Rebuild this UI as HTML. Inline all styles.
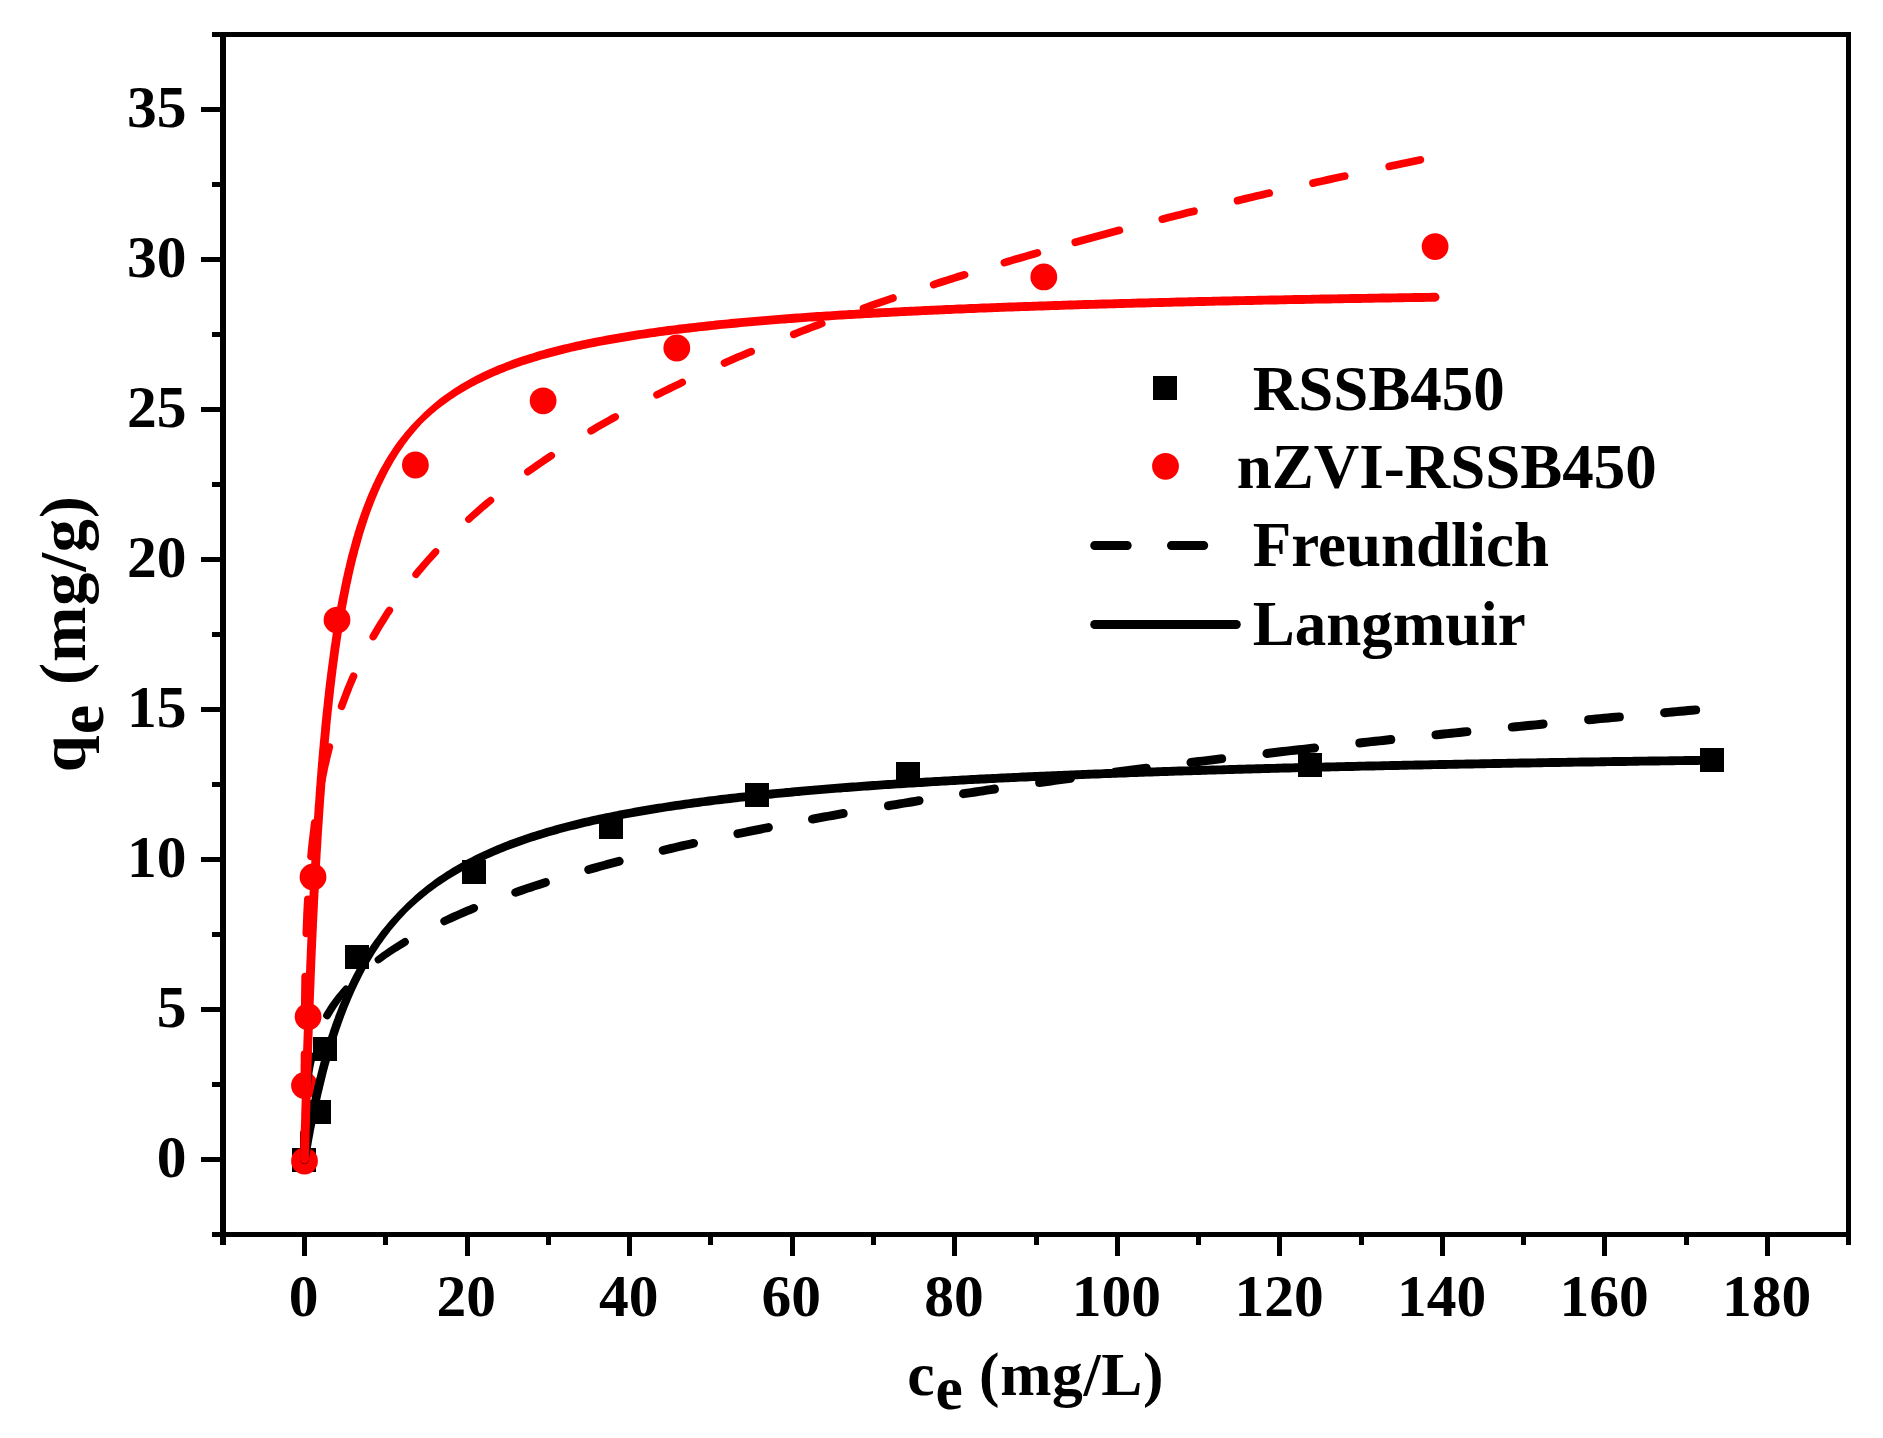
<!DOCTYPE html>
<html><head><meta charset="utf-8"><title>Adsorption isotherms</title>
<style>html,body{margin:0;padding:0;background:#fff}svg{display:block}text{font-family:"Liberation Serif",serif;font-weight:bold;fill:#000}</style></head><body>
<svg width="1883" height="1438" viewBox="0 0 1883 1438">
<rect x="0" y="0" width="1883" height="1438" fill="#fff"/>
<g fill="#000" shape-rendering="crispEdges">
<rect x="212" y="32" width="1639" height="5"/>
<rect x="212" y="1232" width="1639" height="5"/>
<rect x="220" y="32" width="6" height="1213"/>
<rect x="1846" y="32" width="5" height="1213"/>
<rect x="302" y="1234" width="5" height="22"/>
<rect x="383" y="1234" width="5" height="11"/>
<rect x="465" y="1234" width="5" height="22"/>
<rect x="546" y="1234" width="5" height="11"/>
<rect x="627" y="1234" width="5" height="22"/>
<rect x="708" y="1234" width="5" height="11"/>
<rect x="790" y="1234" width="5" height="22"/>
<rect x="871" y="1234" width="5" height="11"/>
<rect x="952" y="1234" width="5" height="22"/>
<rect x="1034" y="1234" width="5" height="11"/>
<rect x="1115" y="1234" width="5" height="22"/>
<rect x="1196" y="1234" width="5" height="11"/>
<rect x="1277" y="1234" width="5" height="22"/>
<rect x="1359" y="1234" width="5" height="11"/>
<rect x="1440" y="1234" width="5" height="22"/>
<rect x="1521" y="1234" width="5" height="11"/>
<rect x="1602" y="1234" width="5" height="22"/>
<rect x="1684" y="1234" width="5" height="11"/>
<rect x="1765" y="1234" width="5" height="22"/>
<rect x="201" y="1157" width="21" height="5"/>
<rect x="212" y="1082" width="10" height="5"/>
<rect x="201" y="1007" width="21" height="5"/>
<rect x="212" y="932" width="10" height="5"/>
<rect x="201" y="857" width="21" height="5"/>
<rect x="212" y="782" width="10" height="5"/>
<rect x="201" y="707" width="21" height="5"/>
<rect x="212" y="632" width="10" height="5"/>
<rect x="201" y="557" width="21" height="5"/>
<rect x="212" y="482" width="10" height="5"/>
<rect x="201" y="407" width="21" height="5"/>
<rect x="212" y="332" width="10" height="5"/>
<rect x="201" y="257" width="21" height="5"/>
<rect x="212" y="182" width="10" height="5"/>
<rect x="201" y="107" width="21" height="5"/>
<rect x="212" y="32" width="10" height="5"/>
</g>
<g font-size="59.5" text-anchor="middle">
<text x="303.70" y="1316.0">0</text>
<text x="466.26" y="1316.0">20</text>
<text x="628.81" y="1316.0">40</text>
<text x="791.37" y="1316.0">60</text>
<text x="953.92" y="1316.0">80</text>
<text x="1116.48" y="1316.0">100</text>
<text x="1279.03" y="1316.0">120</text>
<text x="1441.59" y="1316.0">140</text>
<text x="1604.14" y="1316.0">160</text>
<text x="1766.70" y="1316.0">180</text>
</g>
<g font-size="59.5" text-anchor="end">
<text x="186.4" y="1176.90">0</text>
<text x="186.4" y="1026.90">5</text>
<text x="186.4" y="876.90">10</text>
<text x="186.4" y="726.90">15</text>
<text x="186.4" y="576.90">20</text>
<text x="186.4" y="426.90">25</text>
<text x="186.4" y="276.90">30</text>
<text x="186.4" y="126.90">35</text>
</g>
<text x="907.3" y="1394.6" font-size="61.5">c<tspan dy="14.7" dx="1">e</tspan><tspan dy="-14.7" dx="0" letter-spacing="0.7"> (mg/L)</tspan></text>
<text transform="translate(84.7,772.2) rotate(-90)" font-size="66.5">q<tspan dy="17.8" dx="1">e</tspan><tspan dy="-17.8" dx="2.3" letter-spacing="0.85"> (mg/g)</tspan></text>
<g fill="#000" shape-rendering="crispEdges">
<rect x="292" y="1148" width="24" height="24"/>
<rect x="307" y="1100" width="24" height="24"/>
<rect x="313" y="1037" width="24" height="24"/>
<rect x="345" y="945" width="24" height="24"/>
<rect x="462" y="860" width="24" height="24"/>
<rect x="599" y="815" width="24" height="24"/>
<rect x="745" y="783" width="24" height="24"/>
<rect x="896" y="762" width="24" height="24"/>
<rect x="1298" y="753" width="24" height="24"/>
<rect x="1700" y="748" width="24" height="24"/>
</g>
<g fill="#f00">
<circle cx="304.5" cy="1161.0" r="13.4"/>
<circle cx="304.5" cy="1085.4" r="13.4"/>
<circle cx="308.1" cy="1016.7" r="13.4"/>
<circle cx="313.0" cy="876.9" r="13.4"/>
<circle cx="337.0" cy="620.1" r="13.4"/>
<circle cx="415.4" cy="465.0" r="13.4"/>
<circle cx="543.1" cy="400.8" r="13.4"/>
<circle cx="676.8" cy="348.0" r="13.4"/>
<circle cx="1043.8" cy="276.9" r="13.4"/>
<circle cx="1435.1" cy="246.6" r="13.4"/>
</g>
<g fill="#000">
<path d="M308.8,1160.2 L309.3,1157.3 L309.8,1154.3 L310.3,1151.4 L310.8,1148.4 L311.3,1145.5 L311.8,1142.5 L312.3,1139.6 L312.9,1136.6 L313.4,1133.7 L313.9,1130.8 L314.5,1127.8 L315.1,1124.9 L315.6,1122.0 L316.2,1119.0 L316.8,1116.1 L317.4,1113.2 L318.0,1110.3 L318.6,1107.4 L319.2,1104.4 L319.9,1101.5 L320.5,1098.6 L321.1,1095.7 L321.8,1092.8 L322.5,1089.9 L323.2,1087.0 L323.9,1084.1 L324.6,1081.2 L325.3,1078.3 L326.0,1075.4 L326.7,1072.5 L327.5,1069.6 L328.2,1066.8 L329.0,1063.9 L329.8,1061.0 L330.6,1058.1 L331.4,1055.3 L332.3,1052.4 L333.1,1049.6 L334.0,1046.7 L334.8,1043.9 L335.7,1041.0 L336.6,1038.2 L337.5,1035.4 L338.5,1032.5 L339.4,1029.7 L340.4,1026.9 L341.4,1024.1 L342.4,1021.3 L343.4,1018.5 L344.4,1015.7 L345.5,1013.0 L346.5,1010.2 L347.6,1007.4 L348.7,1004.7 L349.9,1001.9 L351.0,999.2 L352.2,996.5 L353.4,993.8 L354.6,991.1 L355.8,988.4 L357.1,985.7 L358.4,983.0 L359.7,980.4 L361.0,977.7 L362.4,975.1 L363.7,972.5 L365.1,969.8 L366.6,967.3 L368.0,964.7 L369.5,962.1 L371.0,959.6 L372.5,957.0 L374.0,954.5 L375.6,952.0 L377.2,949.5 L378.9,947.1 L380.5,944.6 L382.2,942.2 L383.9,939.8 L385.6,937.4 L387.4,935.0 L389.2,932.7 L391.0,930.3 L392.9,928.0 L394.8,925.8 L396.7,923.5 L398.6,921.3 L400.6,919.0 L402.5,916.9 L404.6,914.7 L406.6,912.6 L408.7,910.5 L410.8,908.4 L413.0,906.4 L415.2,904.4 L417.4,902.5 L419.7,900.6 L421.9,898.7 L424.2,896.8 L426.5,894.9 L428.8,893.1 L431.2,891.3 L433.6,889.6 L436.0,887.8 L438.4,886.1 L440.8,884.5 L443.3,882.8 L445.7,881.2 L448.2,879.6 L450.7,878.0 L453.2,876.5 L455.8,874.9 L458.3,873.5 L460.9,872.0 L463.5,870.5 L466.1,869.1 L468.7,867.7 L471.3,866.4 L473.9,865.0 L476.6,863.7 L479.3,862.4 L481.9,861.1 L484.6,859.9 L487.3,858.6 L490.0,857.4 L492.7,856.2 L495.5,855.1 L498.2,853.9 L500.9,852.8 L503.7,851.7 L506.4,850.6 L509.2,849.5 L512.0,848.5 L514.8,847.4 L517.6,846.4 L520.4,845.4 L523.2,844.4 L526.0,843.5 L528.8,842.5 L531.6,841.6 L534.5,840.7 L537.3,839.8 L540.1,838.9 L543.0,838.0 L545.8,837.2 L548.7,836.3 L551.5,835.5 L554.4,834.7 L557.3,833.9 L560.1,833.1 L563.0,832.3 L565.9,831.6 L568.8,830.8 L571.7,830.1 L574.6,829.4 L577.5,828.7 L580.4,828.0 L583.3,827.3 L586.2,826.6 L589.1,825.9 L592.0,825.3 L594.9,824.6 L597.8,824.0 L600.7,823.3 L603.6,822.7 L606.5,822.1 L609.5,821.5 L612.4,820.9 L615.3,820.3 L618.3,819.8 L621.2,819.2 L624.1,818.6 L627.0,818.1 L630.0,817.5 L632.9,817.0 L635.9,816.5 L638.8,816.0 L641.7,815.4 L644.7,814.9 L647.6,814.4 L650.6,814.0 L653.5,813.5 L656.5,813.0 L659.4,812.5 L662.4,812.1 L665.3,811.6 L668.3,811.1 L671.2,810.7 L674.2,810.3 L677.2,809.8 L680.1,809.4 L683.1,809.0 L686.0,808.5 L689.0,808.1 L692.0,807.7 L694.9,807.3 L697.9,806.9 L700.9,806.5 L703.8,806.1 L706.8,805.8 L709.7,805.4 L712.7,805.0 L715.7,804.6 L718.7,804.3 L721.6,803.9 L724.6,803.6 L727.6,803.2 L730.5,802.9 L733.5,802.5 L736.5,802.2 L739.5,801.8 L742.4,801.5 L745.4,801.2 L748.4,800.9 L751.4,800.5 L754.3,800.2 L757.3,799.9 L760.3,799.6 L763.3,799.3 L766.2,799.0 L769.2,798.7 L772.2,798.4 L775.2,798.1 L778.1,797.8 L781.1,797.5 L784.1,797.2 L787.1,797.0 L790.1,796.7 L793.0,796.4 L796.0,796.1 L799.0,795.9 L802.0,795.6 L805.0,795.3 L808.0,795.1 L810.9,794.8 L813.9,794.6 L816.9,794.3 L819.9,794.1 L822.9,793.8 L825.9,793.6 L828.8,793.3 L831.8,793.1 L834.8,792.8 L837.8,792.6 L840.8,792.4 L843.8,792.1 L846.8,791.9 L849.7,791.7 L852.7,791.5 L855.7,791.2 L858.7,791.0 L861.7,790.8 L864.7,790.6 L867.7,790.4 L870.6,790.2 L873.6,790.0 L876.6,789.8 L879.6,789.5 L882.6,789.3 L885.6,789.1 L888.6,788.9 L891.6,788.7 L894.6,788.5 L897.5,788.3 L900.5,788.2 L903.5,788.0 L906.5,787.8 L909.5,787.6 L912.5,787.4 L915.5,787.2 L918.5,787.0 L921.5,786.9 L924.4,786.7 L927.4,786.5 L930.4,786.3 L933.4,786.1 L936.4,786.0 L939.4,785.8 L942.4,785.6 L945.4,785.5 L948.4,785.3 L951.4,785.1 L954.4,785.0 L957.3,784.8 L960.3,784.6 L963.3,784.5 L966.3,784.3 L969.3,784.1 L972.3,784.0 L975.3,783.8 L978.3,783.7 L981.3,783.5 L984.3,783.4 L987.3,783.2 L990.3,783.1 L993.2,782.9 L996.2,782.8 L999.2,782.6 L1002.2,782.5 L1005.2,782.3 L1008.2,782.2 L1011.2,782.1 L1014.2,781.9 L1017.2,781.8 L1020.2,781.6 L1023.2,781.5 L1026.2,781.4 L1029.2,781.2 L1032.2,781.1 L1035.1,781.0 L1038.1,780.8 L1041.1,780.7 L1044.1,780.6 L1047.1,780.4 L1050.1,780.3 L1053.1,780.2 L1056.1,780.0 L1059.1,779.9 L1062.1,779.8 L1065.1,779.7 L1068.1,779.5 L1071.1,779.4 L1074.1,779.3 L1077.1,779.2 L1080.1,779.1 L1083.0,778.9 L1086.0,778.8 L1089.0,778.7 L1092.0,778.6 L1095.0,778.5 L1098.0,778.4 L1101.0,778.2 L1104.0,778.1 L1107.0,778.0 L1110.0,777.9 L1113.0,777.8 L1116.0,777.7 L1119.0,777.6 L1122.0,777.5 L1125.0,777.4 L1128.0,777.3 L1131.0,777.1 L1134.0,777.0 L1137.0,776.9 L1139.9,776.8 L1142.9,776.7 L1145.9,776.6 L1148.9,776.5 L1151.9,776.4 L1154.9,776.3 L1157.9,776.2 L1160.9,776.1 L1163.9,776.0 L1166.9,775.9 L1169.9,775.8 L1172.9,775.7 L1175.9,775.6 L1178.9,775.5 L1181.9,775.4 L1184.9,775.3 L1187.9,775.3 L1190.9,775.2 L1193.9,775.1 L1196.9,775.0 L1199.9,774.9 L1202.8,774.8 L1205.8,774.7 L1208.8,774.6 L1211.8,774.5 L1214.8,774.4 L1217.8,774.3 L1220.8,774.3 L1223.8,774.2 L1226.8,774.1 L1229.8,774.0 L1232.8,773.9 L1235.8,773.8 L1238.8,773.7 L1241.8,773.7 L1244.8,773.6 L1247.8,773.5 L1250.8,773.4 L1253.8,773.3 L1256.8,773.2 L1259.8,773.2 L1262.8,773.1 L1265.8,773.0 L1268.8,772.9 L1271.8,772.8 L1274.7,772.8 L1277.7,772.7 L1280.7,772.6 L1283.7,772.5 L1286.7,772.4 L1289.7,772.4 L1292.7,772.3 L1295.7,772.2 L1298.7,772.1 L1301.7,772.1 L1304.7,772.0 L1307.7,771.9 L1310.7,771.8 L1313.7,771.8 L1316.7,771.7 L1319.7,771.6 L1322.7,771.6 L1325.7,771.5 L1328.7,771.4 L1331.7,771.3 L1334.7,771.3 L1337.7,771.2 L1340.7,771.1 L1343.7,771.1 L1346.7,771.0 L1349.7,770.9 L1352.7,770.9 L1355.6,770.8 L1358.6,770.7 L1361.6,770.6 L1364.6,770.6 L1367.6,770.5 L1370.6,770.4 L1373.6,770.4 L1376.6,770.3 L1379.6,770.3 L1382.6,770.2 L1385.6,770.1 L1388.6,770.1 L1391.6,770.0 L1394.6,769.9 L1397.6,769.9 L1400.6,769.8 L1403.6,769.7 L1406.6,769.7 L1409.6,769.6 L1412.6,769.6 L1415.6,769.5 L1418.6,769.4 L1421.6,769.4 L1424.6,769.3 L1427.6,769.3 L1430.6,769.2 L1433.6,769.1 L1436.6,769.1 L1439.6,769.0 L1442.6,769.0 L1445.5,768.9 L1448.5,768.8 L1451.5,768.8 L1454.5,768.7 L1457.5,768.7 L1460.5,768.6 L1463.5,768.6 L1466.5,768.5 L1469.5,768.4 L1472.5,768.4 L1475.5,768.3 L1478.5,768.3 L1481.5,768.2 L1484.5,768.2 L1487.5,768.1 L1490.5,768.1 L1493.5,768.0 L1496.5,768.0 L1499.5,767.9 L1502.5,767.8 L1505.5,767.8 L1508.5,767.7 L1511.5,767.7 L1514.5,767.6 L1517.5,767.6 L1520.5,767.5 L1523.5,767.5 L1526.5,767.4 L1529.5,767.4 L1532.5,767.3 L1535.5,767.3 L1538.5,767.2 L1541.4,767.2 L1544.4,767.1 L1547.4,767.1 L1550.4,767.0 L1553.4,767.0 L1556.4,766.9 L1559.4,766.9 L1562.4,766.8 L1565.4,766.8 L1568.4,766.7 L1571.4,766.7 L1574.4,766.6 L1577.4,766.6 L1580.4,766.5 L1583.4,766.5 L1586.4,766.5 L1589.4,766.4 L1592.4,766.4 L1595.4,766.3 L1598.4,766.3 L1601.4,766.2 L1604.4,766.2 L1607.4,766.1 L1610.4,766.1 L1613.4,766.0 L1616.4,766.0 L1619.4,766.0 L1622.4,765.9 L1625.4,765.9 L1628.4,765.8 L1631.4,765.8 L1634.4,765.7 L1637.4,765.7 L1640.4,765.6 L1643.4,765.6 L1646.3,765.6 L1649.3,765.5 L1652.3,765.5 L1655.3,765.4 L1658.3,765.4 L1661.3,765.3 L1664.3,765.3 L1667.3,765.3 L1670.3,765.2 L1673.3,765.2 L1676.3,765.1 L1679.3,765.1 L1682.3,765.1 L1685.3,765.0 L1688.3,765.0 L1691.3,764.9 L1694.3,764.9 L1697.3,764.9 L1700.3,764.8 L1703.3,764.8 L1706.3,764.7 L1709.3,764.7 L1712.3,764.7 A4.45,4.45 0 0 0 1712.2,755.8 L1709.2,755.8 L1706.2,755.8 L1703.2,755.9 L1700.2,755.9 L1697.2,756.0 L1694.2,756.0 L1691.2,756.0 L1688.2,756.1 L1685.2,756.1 L1682.2,756.2 L1679.2,756.2 L1676.2,756.2 L1673.2,756.3 L1670.2,756.3 L1667.2,756.4 L1664.2,756.4 L1661.2,756.4 L1658.2,756.5 L1655.2,756.5 L1652.2,756.6 L1649.2,756.6 L1646.2,756.7 L1643.2,756.7 L1640.2,756.7 L1637.2,756.8 L1634.2,756.8 L1631.2,756.9 L1628.2,756.9 L1625.2,757.0 L1622.2,757.0 L1619.2,757.1 L1616.2,757.1 L1613.2,757.1 L1610.2,757.2 L1607.3,757.2 L1604.3,757.3 L1601.3,757.3 L1598.3,757.4 L1595.3,757.4 L1592.3,757.5 L1589.3,757.5 L1586.3,757.6 L1583.3,757.6 L1580.3,757.6 L1577.3,757.7 L1574.3,757.7 L1571.3,757.8 L1568.3,757.8 L1565.3,757.9 L1562.3,757.9 L1559.3,758.0 L1556.3,758.0 L1553.3,758.1 L1550.3,758.1 L1547.3,758.2 L1544.3,758.2 L1541.3,758.3 L1538.3,758.3 L1535.3,758.4 L1532.3,758.4 L1529.3,758.5 L1526.3,758.5 L1523.3,758.6 L1520.3,758.6 L1517.3,758.7 L1514.3,758.7 L1511.3,758.8 L1508.3,758.8 L1505.3,758.9 L1502.3,758.9 L1499.3,759.0 L1496.3,759.1 L1493.3,759.1 L1490.3,759.2 L1487.3,759.2 L1484.3,759.3 L1481.3,759.3 L1478.3,759.4 L1475.4,759.4 L1472.4,759.5 L1469.4,759.5 L1466.4,759.6 L1463.4,759.7 L1460.4,759.7 L1457.4,759.8 L1454.4,759.8 L1451.4,759.9 L1448.4,759.9 L1445.4,760.0 L1442.4,760.1 L1439.4,760.1 L1436.4,760.2 L1433.4,760.2 L1430.4,760.3 L1427.4,760.4 L1424.4,760.4 L1421.4,760.5 L1418.4,760.5 L1415.4,760.6 L1412.4,760.7 L1409.4,760.7 L1406.4,760.8 L1403.4,760.8 L1400.4,760.9 L1397.4,761.0 L1394.4,761.0 L1391.4,761.1 L1388.4,761.2 L1385.4,761.2 L1382.4,761.3 L1379.4,761.4 L1376.4,761.4 L1373.4,761.5 L1370.4,761.6 L1367.4,761.6 L1364.4,761.7 L1361.4,761.8 L1358.4,761.8 L1355.4,761.9 L1352.4,762.0 L1349.5,762.0 L1346.5,762.1 L1343.5,762.2 L1340.5,762.2 L1337.5,762.3 L1334.5,762.4 L1331.5,762.4 L1328.5,762.5 L1325.5,762.6 L1322.5,762.7 L1319.5,762.7 L1316.5,762.8 L1313.5,762.9 L1310.5,762.9 L1307.5,763.0 L1304.5,763.1 L1301.5,763.2 L1298.5,763.2 L1295.5,763.3 L1292.5,763.4 L1289.5,763.5 L1286.5,763.6 L1283.5,763.6 L1280.5,763.7 L1277.5,763.8 L1274.5,763.9 L1271.5,763.9 L1268.5,764.0 L1265.5,764.1 L1262.5,764.2 L1259.5,764.3 L1256.5,764.3 L1253.5,764.4 L1250.5,764.5 L1247.5,764.6 L1244.5,764.7 L1241.5,764.8 L1238.5,764.8 L1235.5,764.9 L1232.5,765.0 L1229.6,765.1 L1226.6,765.2 L1223.6,765.3 L1220.6,765.4 L1217.6,765.5 L1214.6,765.5 L1211.6,765.6 L1208.6,765.7 L1205.6,765.8 L1202.6,765.9 L1199.6,766.0 L1196.6,766.1 L1193.6,766.2 L1190.6,766.3 L1187.6,766.4 L1184.6,766.5 L1181.6,766.6 L1178.6,766.6 L1175.6,766.7 L1172.6,766.8 L1169.6,766.9 L1166.6,767.0 L1163.6,767.1 L1160.6,767.2 L1157.6,767.3 L1154.6,767.4 L1151.6,767.5 L1148.6,767.6 L1145.6,767.7 L1142.6,767.8 L1139.6,767.9 L1136.6,768.0 L1133.6,768.2 L1130.6,768.3 L1127.6,768.4 L1124.7,768.5 L1121.7,768.6 L1118.7,768.7 L1115.7,768.8 L1112.7,768.9 L1109.7,769.0 L1106.7,769.1 L1103.7,769.2 L1100.7,769.4 L1097.7,769.5 L1094.7,769.6 L1091.7,769.7 L1088.7,769.8 L1085.7,769.9 L1082.7,770.1 L1079.7,770.2 L1076.7,770.3 L1073.7,770.4 L1070.7,770.5 L1067.7,770.7 L1064.7,770.8 L1061.7,770.9 L1058.7,771.0 L1055.7,771.2 L1052.7,771.3 L1049.7,771.4 L1046.7,771.5 L1043.7,771.7 L1040.7,771.8 L1037.7,771.9 L1034.8,772.1 L1031.8,772.2 L1028.8,772.3 L1025.8,772.5 L1022.8,772.6 L1019.8,772.8 L1016.8,772.9 L1013.8,773.0 L1010.8,773.2 L1007.8,773.3 L1004.8,773.5 L1001.8,773.6 L998.8,773.7 L995.8,773.9 L992.8,774.0 L989.8,774.2 L986.8,774.3 L983.8,774.5 L980.8,774.6 L977.8,774.8 L974.8,775.0 L971.8,775.1 L968.8,775.3 L965.8,775.4 L962.8,775.6 L959.9,775.8 L956.9,775.9 L953.9,776.1 L950.9,776.2 L947.9,776.4 L944.9,776.6 L941.9,776.7 L938.9,776.9 L935.9,777.1 L932.9,777.3 L929.9,777.4 L926.9,777.6 L923.9,777.8 L920.9,778.0 L917.9,778.2 L914.9,778.3 L911.9,778.5 L908.9,778.7 L905.9,778.9 L903.0,779.1 L900.0,779.3 L897.0,779.5 L894.0,779.7 L891.0,779.9 L888.0,780.1 L885.0,780.3 L882.0,780.5 L879.0,780.7 L876.0,780.9 L873.0,781.1 L870.0,781.3 L867.0,781.5 L864.0,781.7 L861.0,782.0 L858.0,782.2 L855.1,782.4 L852.1,782.6 L849.1,782.8 L846.1,783.1 L843.1,783.3 L840.1,783.5 L837.1,783.8 L834.1,784.0 L831.1,784.2 L828.1,784.5 L825.1,784.7 L822.1,785.0 L819.2,785.2 L816.2,785.5 L813.2,785.7 L810.2,786.0 L807.2,786.2 L804.2,786.5 L801.2,786.8 L798.2,787.0 L795.2,787.3 L792.2,787.6 L789.2,787.9 L786.3,788.1 L783.3,788.4 L780.3,788.7 L777.3,789.0 L774.3,789.3 L771.3,789.6 L768.3,789.9 L765.3,790.2 L762.4,790.5 L759.4,790.8 L756.4,791.1 L753.4,791.4 L750.4,791.7 L747.4,792.1 L744.4,792.4 L741.4,792.7 L738.5,793.0 L735.5,793.4 L732.5,793.7 L729.5,794.1 L726.5,794.4 L723.5,794.8 L720.6,795.1 L717.6,795.5 L714.6,795.9 L711.6,796.2 L708.6,796.6 L705.7,797.0 L702.7,797.4 L699.7,797.8 L696.7,798.2 L693.7,798.6 L690.8,799.0 L687.8,799.4 L684.8,799.8 L681.8,800.2 L678.9,800.7 L675.9,801.1 L672.9,801.5 L669.9,802.0 L667.0,802.4 L664.0,802.9 L661.0,803.4 L658.0,803.8 L655.1,804.3 L652.1,804.8 L649.1,805.3 L646.2,805.8 L643.2,806.3 L640.2,806.8 L637.3,807.3 L634.3,807.8 L631.4,808.4 L628.4,808.9 L625.4,809.5 L622.5,810.0 L619.5,810.6 L616.6,811.2 L613.6,811.8 L610.7,812.4 L607.7,813.0 L604.8,813.6 L601.8,814.2 L598.9,814.8 L595.9,815.5 L593.0,816.1 L590.1,816.8 L587.1,817.4 L584.2,818.1 L581.2,818.8 L578.3,819.5 L575.4,820.2 L572.5,821.0 L569.5,821.7 L566.6,822.5 L563.7,823.2 L560.8,824.0 L557.9,824.8 L555.0,825.6 L552.1,826.4 L549.2,827.3 L546.3,828.1 L543.4,829.0 L540.5,829.9 L537.6,830.8 L534.7,831.7 L531.8,832.6 L529.0,833.5 L526.1,834.5 L523.2,835.5 L520.4,836.5 L517.5,837.5 L514.7,838.5 L511.9,839.6 L509.0,840.6 L506.2,841.7 L503.4,842.8 L500.6,844.0 L497.8,845.1 L495.0,846.3 L492.2,847.5 L489.4,848.7 L486.7,849.9 L483.9,851.2 L481.2,852.5 L478.4,853.8 L475.7,855.1 L473.0,856.5 L470.3,857.9 L467.6,859.3 L464.9,860.7 L462.3,862.2 L459.6,863.7 L457.0,865.2 L454.4,866.7 L451.8,868.3 L449.2,869.9 L446.6,871.5 L444.1,873.2 L441.5,874.9 L439.0,876.6 L436.5,878.3 L434.1,880.1 L431.6,881.9 L429.2,883.7 L426.8,885.6 L424.4,887.5 L422.0,889.4 L419.7,891.3 L417.4,893.3 L415.1,895.3 L412.8,897.4 L410.6,899.4 L408.4,901.5 L406.2,903.6 L404.1,905.8 L401.9,907.9 L399.8,910.1 L397.6,912.3 L395.6,914.5 L393.5,916.7 L391.4,918.9 L389.4,921.2 L387.5,923.5 L385.5,925.9 L383.6,928.2 L381.7,930.6 L379.8,933.0 L378.0,935.4 L376.2,937.9 L374.4,940.3 L372.7,942.8 L370.9,945.3 L369.2,947.9 L367.6,950.4 L366.0,953.0 L364.3,955.6 L362.8,958.1 L361.2,960.8 L359.7,963.4 L358.2,966.0 L356.7,968.7 L355.3,971.4 L353.9,974.1 L352.5,976.7 L351.1,979.5 L349.8,982.2 L348.5,984.9 L347.2,987.7 L345.9,990.4 L344.7,993.2 L343.5,995.9 L342.3,998.7 L341.1,1001.5 L339.9,1004.3 L338.8,1007.1 L337.7,1009.9 L336.6,1012.8 L335.5,1015.6 L334.5,1018.4 L333.4,1021.3 L332.4,1024.1 L331.4,1027.0 L330.4,1029.8 L329.5,1032.7 L328.5,1035.6 L327.6,1038.4 L326.7,1041.3 L325.8,1044.2 L324.9,1047.1 L324.0,1050.0 L323.2,1052.9 L322.3,1055.8 L321.5,1058.7 L320.7,1061.6 L319.9,1064.5 L319.1,1067.4 L318.4,1070.3 L317.6,1073.3 L316.9,1076.2 L316.1,1079.1 L315.4,1082.0 L314.7,1085.0 L314.0,1087.9 L313.3,1090.8 L312.7,1093.8 L312.0,1096.7 L311.3,1099.7 L310.7,1102.6 L310.1,1105.5 L309.4,1108.5 L308.8,1111.4 L308.2,1114.4 L307.6,1117.3 L307.0,1120.3 L306.5,1123.2 L305.9,1126.2 L305.3,1129.2 L304.8,1132.1 L304.2,1135.1 L303.7,1138.0 L303.2,1141.0 L302.7,1144.0 L302.1,1146.9 L301.6,1149.9 L301.1,1152.9 L300.6,1155.8 L300.2,1158.8 A4.40,4.40 0 0 0 308.8,1160.2Z"/>
<path d="M309.0,1159.5 L309.0,1155.7 L309.0,1152.0 L309.0,1148.2 L309.0,1144.4 L309.0,1140.7 L309.0,1136.9 L309.0,1133.2 A4.50,4.50 0 0 0 300.0,1133.1 L300.0,1136.9 L300.0,1140.7 L300.0,1144.4 L300.0,1148.2 L300.0,1152.0 L300.0,1155.7 L300.0,1159.5 A4.50,4.50 0 0 0 309.0,1159.5Z M310.7,1088.6 L311.1,1084.7 L311.5,1080.8 L312.0,1077.0 L312.5,1073.1 L313.1,1069.3 L313.8,1065.5 L314.6,1061.7 L315.4,1057.9 A4.39,4.39 0 0 0 306.8,1055.9 L305.9,1059.9 L305.1,1063.8 L304.4,1067.8 L303.7,1071.8 L303.2,1075.8 L302.6,1079.8 L302.2,1083.8 L301.8,1087.8 A4.48,4.48 0 0 0 310.7,1088.6Z M330.4,1017.6 L332.2,1014.5 L334.0,1011.4 L335.9,1008.4 L337.9,1005.4 L340.0,1002.4 L342.1,999.5 L344.3,996.7 L346.5,993.9 L348.8,991.1 A3.48,3.48 0 0 0 343.6,986.5 L341.1,989.3 L338.7,992.2 L336.3,995.1 L334.0,998.0 L331.8,1001.0 L329.6,1004.1 L327.5,1007.2 L325.5,1010.4 L323.5,1013.7 A3.98,3.98 0 0 0 330.4,1017.6Z M380.3,962.8 L383.2,960.7 L386.1,958.6 L389.1,956.6 L392.1,954.6 L395.1,952.6 L398.2,950.7 L401.3,948.8 L404.3,946.9 L407.4,945.0 A3.93,3.93 0 0 0 403.4,938.3 L400.3,940.2 L397.1,942.2 L394.0,944.2 L390.9,946.2 L387.9,948.3 L384.8,950.4 L381.8,952.5 L378.8,954.7 L375.9,956.9 A3.69,3.69 0 0 0 380.3,962.8Z M446.2,924.8 L449.4,923.3 L452.6,921.9 L455.8,920.4 L459.1,919.0 L462.4,917.6 L465.6,916.2 L468.9,914.8 L472.2,913.4 L475.5,912.1 A4.20,4.20 0 0 0 472.3,904.3 L469.0,905.7 L465.6,907.1 L462.3,908.5 L459.0,909.9 L455.7,911.4 L452.5,912.8 L449.2,914.3 L445.9,915.9 L442.6,917.4 A4.11,4.11 0 0 0 446.2,924.8Z M516.9,896.5 L520.7,895.2 L524.4,893.9 L528.2,892.6 L532.0,891.4 L535.7,890.1 L539.5,888.9 L543.3,887.7 L547.1,886.5 A4.31,4.31 0 0 0 544.5,878.3 L540.7,879.5 L536.9,880.7 L533.0,882.0 L529.2,883.2 L525.4,884.5 L521.7,885.8 L517.9,887.1 L514.1,888.4 A4.27,4.27 0 0 0 516.9,896.5Z M589.8,873.8 L593.6,872.7 L597.4,871.7 L601.2,870.6 L605.0,869.6 L608.9,868.5 L612.7,867.5 L616.5,866.5 L620.4,865.5 A4.37,4.37 0 0 0 618.2,857.0 L614.3,858.1 L610.5,859.1 L606.6,860.1 L602.8,861.2 L598.9,862.2 L595.1,863.3 L591.2,864.3 L587.4,865.4 A4.35,4.35 0 0 0 589.8,873.8Z M663.7,854.7 L667.6,853.8 L671.4,852.9 L675.3,852.0 L679.1,851.1 L683.0,850.2 L686.8,849.3 L690.7,848.4 L694.6,847.6 A4.40,4.40 0 0 0 692.6,839.0 L688.8,839.9 L684.9,840.7 L681.0,841.6 L677.2,842.5 L673.3,843.4 L669.4,844.3 L665.6,845.2 L661.7,846.2 A4.39,4.39 0 0 0 663.7,854.7Z M738.3,838.1 L742.2,837.3 L746.1,836.5 L749.9,835.8 L753.8,835.0 L757.7,834.2 L761.6,833.4 L765.4,832.6 L769.3,831.9 A4.42,4.42 0 0 0 767.6,823.2 L763.7,824.0 L759.8,824.7 L755.9,825.5 L752.1,826.3 L748.2,827.1 L744.3,827.9 L740.4,828.7 L736.5,829.5 A4.42,4.42 0 0 0 738.3,838.1Z M813.3,823.5 L817.2,822.7 L821.1,822.0 L825.0,821.3 L828.9,820.6 L832.8,819.9 L836.7,819.2 L840.5,818.5 L844.4,817.8 A4.44,4.44 0 0 0 842.9,809.1 L839.0,809.8 L835.1,810.5 L831.2,811.2 L827.3,811.9 L823.4,812.6 L819.5,813.3 L815.6,814.0 L811.7,814.7 A4.43,4.43 0 0 0 813.3,823.5Z M888.6,810.2 L892.5,809.6 L896.4,808.9 L900.3,808.3 L904.2,807.6 L908.1,807.0 L912.0,806.4 L915.9,805.7 L919.8,805.1 A4.45,4.45 0 0 0 918.4,796.3 L914.5,797.0 L910.6,797.6 L906.7,798.2 L902.8,798.9 L898.9,799.5 L895.0,800.2 L891.1,800.8 L887.2,801.5 A4.44,4.44 0 0 0 888.6,810.2Z M964.2,798.1 L968.1,797.6 L972.0,797.0 L975.9,796.4 L979.8,795.8 L983.7,795.2 L987.6,794.6 L991.5,794.0 L995.4,793.4 A4.46,4.46 0 0 0 994.1,784.6 L990.2,785.2 L986.2,785.8 L982.3,786.4 L978.4,787.0 L974.5,787.6 L970.6,788.2 L966.7,788.7 L962.8,789.3 A4.45,4.45 0 0 0 964.2,798.1Z M1039.8,787.0 L1043.7,786.5 L1047.6,785.9 L1051.5,785.4 L1055.4,784.8 L1059.3,784.3 L1063.3,783.7 L1067.2,783.2 L1071.1,782.7 A4.46,4.46 0 0 0 1069.9,773.8 L1065.9,774.3 L1062.0,774.9 L1058.1,775.4 L1054.2,776.0 L1050.3,776.5 L1046.4,777.1 L1042.5,777.6 L1038.6,778.2 A4.46,4.46 0 0 0 1039.8,787.0Z M1115.6,776.7 L1119.5,776.1 L1123.4,775.6 L1127.3,775.1 L1131.2,774.6 L1135.1,774.1 L1139.1,773.6 L1143.0,773.1 L1146.9,772.6 A4.47,4.47 0 0 0 1145.7,763.7 L1141.8,764.2 L1137.9,764.7 L1134.0,765.2 L1130.1,765.8 L1126.2,766.3 L1122.2,766.8 L1118.3,767.3 L1114.4,767.8 A4.47,4.47 0 0 0 1115.6,776.7Z M1191.5,767.0 L1195.4,766.5 L1199.3,766.0 L1203.2,765.5 L1207.1,765.0 L1211.0,764.6 L1214.9,764.1 L1218.9,763.6 L1222.8,763.1 A4.47,4.47 0 0 0 1221.7,754.3 L1217.8,754.7 L1213.9,755.2 L1210.0,755.7 L1206.0,756.2 L1202.1,756.7 L1198.2,757.1 L1194.3,757.6 L1190.4,758.1 A4.47,4.47 0 0 0 1191.5,767.0Z M1267.4,757.9 L1271.4,757.4 L1275.4,756.9 L1279.3,756.5 L1283.3,756.0 L1287.3,755.6 L1291.2,755.1 L1295.2,754.7 L1299.2,754.2 L1303.2,753.7 L1307.1,753.3 L1311.1,752.8 L1315.1,752.4 A4.47,4.47 0 0 0 1314.1,743.5 L1310.1,744.0 L1306.1,744.4 L1302.1,744.9 L1298.2,745.3 L1294.2,745.8 L1290.2,746.2 L1286.2,746.7 L1282.3,747.1 L1278.3,747.6 L1274.3,748.0 L1270.3,748.5 L1266.4,749.0 A4.47,4.47 0 0 0 1267.4,757.9Z M1360.0,747.4 L1364.0,747.0 L1367.9,746.6 L1371.8,746.1 L1375.7,745.7 L1379.6,745.3 L1383.5,744.9 L1387.5,744.5 L1391.4,744.0 A4.48,4.48 0 0 0 1390.4,735.1 L1386.5,735.6 L1382.6,736.0 L1378.7,736.4 L1374.7,736.8 L1370.8,737.2 L1366.9,737.7 L1363.0,738.1 L1359.1,738.5 A4.48,4.48 0 0 0 1360.0,747.4Z M1436.2,739.3 L1440.1,738.9 L1444.1,738.5 L1448.0,738.1 L1451.9,737.7 L1455.8,737.3 L1459.7,736.9 L1463.7,736.5 L1467.6,736.1 A4.48,4.48 0 0 0 1466.7,727.2 L1462.8,727.6 L1458.8,728.0 L1454.9,728.4 L1451.0,728.8 L1447.1,729.2 L1443.1,729.6 L1439.2,730.0 L1435.3,730.4 A4.48,4.48 0 0 0 1436.2,739.3Z M1512.5,731.6 L1516.4,731.2 L1520.3,730.8 L1524.2,730.5 L1528.1,730.1 L1532.1,729.7 L1536.0,729.3 L1539.9,728.9 L1543.8,728.5 A4.48,4.48 0 0 0 1543.0,719.6 L1539.0,720.0 L1535.1,720.4 L1531.2,720.8 L1527.3,721.1 L1523.3,721.5 L1519.4,721.9 L1515.5,722.3 L1511.6,722.7 A4.48,4.48 0 0 0 1512.5,731.6Z M1588.7,724.2 L1592.6,723.9 L1596.6,723.5 L1600.5,723.1 L1604.4,722.8 L1608.3,722.4 L1612.3,722.0 L1616.2,721.7 L1620.1,721.3 A4.48,4.48 0 0 0 1619.3,712.4 L1615.4,712.7 L1611.4,713.1 L1607.5,713.5 L1603.6,713.8 L1599.7,714.2 L1595.7,714.6 L1591.8,714.9 L1587.9,715.3 A4.48,4.48 0 0 0 1588.7,724.2Z M1665.0,717.2 L1668.9,716.8 L1672.9,716.5 L1676.8,716.1 L1680.7,715.8 L1684.6,715.4 L1688.6,715.0 L1692.5,714.7 L1696.4,714.3 A4.48,4.48 0 0 0 1695.6,705.4 L1691.7,705.8 L1687.8,706.1 L1683.8,706.5 L1679.9,706.8 L1676.0,707.2 L1672.1,707.5 L1668.1,707.9 L1664.2,708.2 A4.48,4.48 0 0 0 1665.0,717.2Z"/>
</g>
<g fill="#f00">
<path d="M308.9,1159.6 L309.0,1156.6 L309.1,1153.6 L309.2,1150.6 L309.3,1147.6 L309.3,1144.6 L309.4,1141.6 L309.5,1138.6 L309.6,1135.6 L309.6,1132.6 L309.7,1129.6 L309.8,1126.7 L309.9,1123.7 L310.0,1120.7 L310.0,1117.7 L310.1,1114.7 L310.2,1111.7 L310.3,1108.7 L310.4,1105.7 L310.5,1102.7 L310.6,1099.7 L310.6,1096.7 L310.7,1093.7 L310.8,1090.7 L310.9,1087.7 L311.0,1084.7 L311.1,1081.7 L311.2,1078.7 L311.3,1075.7 L311.4,1072.7 L311.4,1069.7 L311.5,1066.7 L311.6,1063.7 L311.7,1060.7 L311.8,1057.7 L311.9,1054.7 L312.0,1051.8 L312.1,1048.8 L312.2,1045.8 L312.3,1042.8 L312.4,1039.8 L312.5,1036.8 L312.6,1033.8 L312.7,1030.8 L312.8,1027.8 L312.9,1024.8 L313.0,1021.8 L313.1,1018.8 L313.2,1015.8 L313.4,1012.8 L313.5,1009.8 L313.6,1006.8 L313.7,1003.8 L313.8,1000.8 L313.9,997.8 L314.0,994.8 L314.1,991.8 L314.2,988.9 L314.4,985.9 L314.5,982.9 L314.6,979.9 L314.7,976.9 L314.8,973.9 L315.0,970.9 L315.1,967.9 L315.2,964.9 L315.3,961.9 L315.4,958.9 L315.6,955.9 L315.7,952.9 L315.8,949.9 L316.0,946.9 L316.1,943.9 L316.2,940.9 L316.4,938.0 L316.5,935.0 L316.6,932.0 L316.8,929.0 L316.9,926.0 L317.0,923.0 L317.2,920.0 L317.3,917.0 L317.5,914.0 L317.6,911.0 L317.8,908.0 L317.9,905.0 L318.0,902.0 L318.2,899.0 L318.4,896.1 L318.5,893.1 L318.7,890.1 L318.8,887.1 L319.0,884.1 L319.1,881.1 L319.3,878.1 L319.5,875.1 L319.6,872.1 L319.8,869.1 L320.0,866.1 L320.1,863.1 L320.3,860.2 L320.5,857.2 L320.6,854.2 L320.8,851.2 L321.0,848.2 L321.2,845.2 L321.4,842.2 L321.5,839.2 L321.7,836.2 L321.9,833.2 L322.1,830.3 L322.3,827.3 L322.5,824.3 L322.7,821.3 L322.9,818.3 L323.1,815.3 L323.3,812.3 L323.5,809.3 L323.7,806.4 L323.9,803.4 L324.1,800.4 L324.3,797.4 L324.6,794.4 L324.8,791.4 L325.0,788.4 L325.2,785.4 L325.5,782.5 L325.7,779.5 L325.9,776.5 L326.2,773.5 L326.4,770.5 L326.6,767.5 L326.9,764.6 L327.1,761.6 L327.4,758.6 L327.6,755.6 L327.9,752.6 L328.1,749.6 L328.4,746.7 L328.7,743.7 L328.9,740.7 L329.2,737.7 L329.5,734.7 L329.8,731.8 L330.1,728.8 L330.3,725.8 L330.6,722.8 L330.9,719.8 L331.2,716.9 L331.5,713.9 L331.8,710.9 L332.2,707.9 L332.5,705.0 L332.8,702.0 L333.1,699.0 L333.5,696.0 L333.8,693.1 L334.1,690.1 L334.5,687.1 L334.8,684.2 L335.2,681.2 L335.5,678.2 L335.9,675.2 L336.3,672.3 L336.6,669.3 L337.0,666.4 L337.4,663.4 L337.8,660.4 L338.2,657.5 L338.6,654.5 L339.0,651.5 L339.4,648.6 L339.9,645.6 L340.3,642.7 L340.7,639.7 L341.2,636.8 L341.6,633.8 L342.1,630.9 L342.6,627.9 L343.0,625.0 L343.5,622.0 L344.0,619.1 L344.5,616.1 L345.0,613.2 L345.5,610.2 L346.1,607.3 L346.6,604.4 L347.2,601.4 L347.7,598.5 L348.3,595.6 L348.9,592.6 L349.4,589.7 L350.0,586.8 L350.6,583.9 L351.3,581.0 L351.9,578.1 L352.5,575.1 L353.2,572.2 L353.8,569.3 L354.5,566.4 L355.2,563.5 L355.9,560.6 L356.6,557.8 L357.4,554.9 L358.1,552.0 L358.9,549.1 L359.7,546.2 L360.5,543.4 L361.3,540.5 L362.1,537.7 L362.9,534.8 L363.8,532.0 L364.7,529.1 L365.6,526.3 L366.5,523.5 L367.4,520.7 L368.4,517.8 L369.3,515.0 L370.3,512.2 L371.3,509.5 L372.4,506.7 L373.4,503.9 L374.5,501.2 L375.6,498.4 L376.8,495.7 L377.9,492.9 L379.1,490.2 L380.3,487.5 L381.5,484.8 L382.8,482.2 L384.1,479.5 L385.4,476.9 L386.7,474.2 L388.1,471.6 L389.5,469.0 L390.9,466.4 L392.3,463.9 L393.8,461.3 L395.4,458.8 L396.9,456.3 L398.5,453.8 L400.1,451.3 L401.7,448.9 L403.4,446.5 L405.1,444.1 L406.9,441.7 L408.7,439.3 L410.5,437.0 L412.3,434.7 L414.2,432.4 L416.1,430.2 L418.0,428.0 L420.0,425.8 L422.0,423.6 L424.1,421.5 L426.2,419.5 L428.4,417.5 L430.6,415.5 L432.8,413.6 L435.0,411.7 L437.3,409.8 L439.6,408.0 L441.9,406.2 L444.3,404.4 L446.7,402.7 L449.1,401.0 L451.5,399.3 L454.0,397.7 L456.4,396.1 L458.9,394.5 L461.4,392.9 L464.0,391.4 L466.5,389.9 L469.1,388.5 L471.7,387.1 L474.3,385.7 L476.9,384.3 L479.6,383.0 L482.2,381.7 L484.9,380.4 L487.5,379.2 L490.2,378.0 L492.9,376.8 L495.7,375.6 L498.4,374.4 L501.1,373.3 L503.9,372.2 L506.6,371.1 L509.4,370.1 L512.2,369.1 L515.0,368.0 L517.8,367.1 L520.6,366.1 L523.4,365.1 L526.2,364.2 L529.0,363.3 L531.9,362.4 L534.7,361.5 L537.6,360.7 L540.4,359.8 L543.3,359.0 L546.1,358.2 L549.0,357.4 L551.9,356.7 L554.7,355.9 L557.6,355.2 L560.5,354.4 L563.4,353.7 L566.3,353.0 L569.2,352.3 L572.1,351.6 L575.0,351.0 L577.9,350.3 L580.8,349.7 L583.7,349.1 L586.6,348.5 L589.6,347.8 L592.5,347.3 L595.4,346.7 L598.3,346.1 L601.3,345.5 L604.2,345.0 L607.1,344.4 L610.1,343.9 L613.0,343.4 L615.9,342.9 L618.9,342.4 L621.8,341.9 L624.8,341.4 L627.7,340.9 L630.7,340.4 L633.6,340.0 L636.6,339.5 L639.5,339.0 L642.5,338.6 L645.4,338.2 L648.4,337.7 L651.4,337.3 L654.3,336.9 L657.3,336.5 L660.2,336.1 L663.2,335.7 L666.2,335.3 L669.1,334.9 L672.1,334.5 L675.1,334.1 L678.0,333.8 L681.0,333.4 L684.0,333.1 L686.9,332.7 L689.9,332.4 L692.9,332.0 L695.8,331.7 L698.8,331.3 L701.8,331.0 L704.8,330.7 L707.7,330.4 L710.7,330.0 L713.7,329.7 L716.7,329.4 L719.6,329.1 L722.6,328.8 L725.6,328.5 L728.6,328.2 L731.6,328.0 L734.5,327.7 L737.5,327.4 L740.5,327.1 L743.5,326.8 L746.5,326.6 L749.4,326.3 L752.4,326.0 L755.4,325.8 L758.4,325.5 L761.4,325.3 L764.3,325.0 L767.3,324.8 L770.3,324.5 L773.3,324.3 L776.3,324.1 L779.3,323.8 L782.3,323.6 L785.2,323.4 L788.2,323.1 L791.2,322.9 L794.2,322.7 L797.2,322.5 L800.2,322.3 L803.2,322.0 L806.1,321.8 L809.1,321.6 L812.1,321.4 L815.1,321.2 L818.1,321.0 L821.1,320.8 L824.1,320.6 L827.1,320.4 L830.0,320.2 L833.0,320.0 L836.0,319.8 L839.0,319.6 L842.0,319.5 L845.0,319.3 L848.0,319.1 L851.0,318.9 L854.0,318.7 L857.0,318.6 L859.9,318.4 L862.9,318.2 L865.9,318.0 L868.9,317.9 L871.9,317.7 L874.9,317.5 L877.9,317.4 L880.9,317.2 L883.9,317.1 L886.9,316.9 L889.9,316.7 L892.9,316.6 L895.8,316.4 L898.8,316.3 L901.8,316.1 L904.8,316.0 L907.8,315.8 L910.8,315.7 L913.8,315.5 L916.8,315.4 L919.8,315.3 L922.8,315.1 L925.8,315.0 L928.8,314.8 L931.8,314.7 L934.7,314.6 L937.7,314.4 L940.7,314.3 L943.7,314.2 L946.7,314.0 L949.7,313.9 L952.7,313.8 L955.7,313.6 L958.7,313.5 L961.7,313.4 L964.7,313.3 L967.7,313.1 L970.7,313.0 L973.7,312.9 L976.7,312.8 L979.7,312.6 L982.7,312.5 L985.6,312.4 L988.6,312.3 L991.6,312.2 L994.6,312.1 L997.6,312.0 L1000.6,311.8 L1003.6,311.7 L1006.6,311.6 L1009.6,311.5 L1012.6,311.4 L1015.6,311.3 L1018.6,311.2 L1021.6,311.1 L1024.6,311.0 L1027.6,310.9 L1030.6,310.8 L1033.6,310.7 L1036.6,310.6 L1039.6,310.5 L1042.6,310.4 L1045.5,310.3 L1048.5,310.2 L1051.5,310.1 L1054.5,310.0 L1057.5,309.9 L1060.5,309.8 L1063.5,309.7 L1066.5,309.6 L1069.5,309.5 L1072.5,309.4 L1075.5,309.3 L1078.5,309.2 L1081.5,309.1 L1084.5,309.0 L1087.5,308.9 L1090.5,308.8 L1093.5,308.8 L1096.5,308.7 L1099.5,308.6 L1102.5,308.5 L1105.5,308.4 L1108.5,308.3 L1111.5,308.2 L1114.5,308.2 L1117.4,308.1 L1120.4,308.0 L1123.4,307.9 L1126.4,307.8 L1129.4,307.7 L1132.4,307.7 L1135.4,307.6 L1138.4,307.5 L1141.4,307.4 L1144.4,307.4 L1147.4,307.3 L1150.4,307.2 L1153.4,307.1 L1156.4,307.0 L1159.4,307.0 L1162.4,306.9 L1165.4,306.8 L1168.4,306.7 L1171.4,306.7 L1174.4,306.6 L1177.4,306.5 L1180.4,306.5 L1183.4,306.4 L1186.4,306.3 L1189.4,306.2 L1192.4,306.2 L1195.4,306.1 L1198.4,306.0 L1201.4,306.0 L1204.3,305.9 L1207.3,305.8 L1210.3,305.8 L1213.3,305.7 L1216.3,305.6 L1219.3,305.6 L1222.3,305.5 L1225.3,305.4 L1228.3,305.4 L1231.3,305.3 L1234.3,305.2 L1237.3,305.2 L1240.3,305.1 L1243.3,305.0 L1246.3,305.0 L1249.3,304.9 L1252.3,304.9 L1255.3,304.8 L1258.3,304.7 L1261.3,304.7 L1264.3,304.6 L1267.3,304.6 L1270.3,304.5 L1273.3,304.4 L1276.3,304.4 L1279.3,304.3 L1282.3,304.3 L1285.3,304.2 L1288.3,304.1 L1291.3,304.1 L1294.3,304.0 L1297.3,304.0 L1300.3,303.9 L1303.3,303.9 L1306.2,303.8 L1309.2,303.8 L1312.2,303.7 L1315.2,303.6 L1318.2,303.6 L1321.2,303.5 L1324.2,303.5 L1327.2,303.4 L1330.2,303.4 L1333.2,303.3 L1336.2,303.3 L1339.2,303.2 L1342.2,303.2 L1345.2,303.1 L1348.2,303.1 L1351.2,303.0 L1354.2,303.0 L1357.2,302.9 L1360.2,302.9 L1363.2,302.8 L1366.2,302.8 L1369.2,302.7 L1372.2,302.7 L1375.2,302.6 L1378.2,302.6 L1381.2,302.5 L1384.2,302.5 L1387.2,302.4 L1390.2,302.4 L1393.2,302.3 L1396.2,302.3 L1399.2,302.2 L1402.2,302.2 L1405.2,302.1 L1408.2,302.1 L1411.2,302.1 L1414.2,302.0 L1417.2,302.0 L1420.2,301.9 L1423.1,301.9 L1426.1,301.8 L1429.1,301.8 L1432.1,301.7 L1435.1,301.7 A4.45,4.45 0 0 0 1435.0,292.8 L1432.0,292.8 L1429.0,292.9 L1426.0,292.9 L1423.0,293.0 L1420.0,293.0 L1417.0,293.1 L1414.0,293.1 L1411.0,293.2 L1408.0,293.2 L1405.0,293.3 L1402.0,293.3 L1399.0,293.3 L1396.0,293.4 L1393.0,293.4 L1390.0,293.5 L1387.0,293.5 L1384.0,293.6 L1381.0,293.6 L1378.0,293.7 L1375.0,293.7 L1372.0,293.8 L1369.0,293.8 L1366.0,293.9 L1363.1,293.9 L1360.1,294.0 L1357.1,294.0 L1354.1,294.1 L1351.1,294.1 L1348.1,294.2 L1345.1,294.2 L1342.1,294.3 L1339.1,294.3 L1336.1,294.4 L1333.1,294.4 L1330.1,294.5 L1327.1,294.5 L1324.1,294.6 L1321.1,294.6 L1318.1,294.7 L1315.1,294.8 L1312.1,294.8 L1309.1,294.9 L1306.1,294.9 L1303.1,295.0 L1300.1,295.0 L1297.1,295.1 L1294.1,295.1 L1291.1,295.2 L1288.1,295.3 L1285.1,295.3 L1282.1,295.4 L1279.1,295.4 L1276.1,295.5 L1273.1,295.5 L1270.1,295.6 L1267.1,295.7 L1264.1,295.7 L1261.1,295.8 L1258.1,295.8 L1255.1,295.9 L1252.1,296.0 L1249.1,296.0 L1246.1,296.1 L1243.1,296.2 L1240.1,296.2 L1237.1,296.3 L1234.1,296.3 L1231.1,296.4 L1228.1,296.5 L1225.1,296.5 L1222.1,296.6 L1219.1,296.7 L1216.1,296.7 L1213.1,296.8 L1210.1,296.9 L1207.1,296.9 L1204.1,297.0 L1201.1,297.1 L1198.1,297.1 L1195.2,297.2 L1192.2,297.3 L1189.2,297.3 L1186.2,297.4 L1183.2,297.5 L1180.2,297.6 L1177.2,297.6 L1174.2,297.7 L1171.2,297.8 L1168.2,297.9 L1165.2,297.9 L1162.2,298.0 L1159.2,298.1 L1156.2,298.2 L1153.2,298.2 L1150.2,298.3 L1147.2,298.4 L1144.2,298.5 L1141.2,298.5 L1138.2,298.6 L1135.2,298.7 L1132.2,298.8 L1129.2,298.9 L1126.2,298.9 L1123.2,299.0 L1120.2,299.1 L1117.2,299.2 L1114.2,299.3 L1111.2,299.4 L1108.2,299.4 L1105.2,299.5 L1102.2,299.6 L1099.2,299.7 L1096.2,299.8 L1093.2,299.9 L1090.2,300.0 L1087.2,300.0 L1084.2,300.1 L1081.2,300.2 L1078.2,300.3 L1075.2,300.4 L1072.2,300.5 L1069.2,300.6 L1066.2,300.7 L1063.2,300.8 L1060.2,300.9 L1057.2,301.0 L1054.2,301.1 L1051.2,301.2 L1048.2,301.3 L1045.3,301.4 L1042.3,301.5 L1039.3,301.6 L1036.3,301.7 L1033.3,301.8 L1030.3,301.9 L1027.3,302.0 L1024.3,302.1 L1021.3,302.2 L1018.3,302.3 L1015.3,302.4 L1012.3,302.5 L1009.3,302.6 L1006.3,302.7 L1003.3,302.8 L1000.3,303.0 L997.3,303.1 L994.3,303.2 L991.3,303.3 L988.3,303.4 L985.3,303.5 L982.3,303.6 L979.3,303.8 L976.3,303.9 L973.3,304.0 L970.3,304.1 L967.3,304.2 L964.3,304.4 L961.3,304.5 L958.3,304.6 L955.3,304.7 L952.3,304.9 L949.3,305.0 L946.3,305.1 L943.3,305.3 L940.3,305.4 L937.3,305.5 L934.3,305.7 L931.3,305.8 L928.4,305.9 L925.4,306.1 L922.4,306.2 L919.4,306.4 L916.4,306.5 L913.4,306.7 L910.4,306.8 L907.4,307.0 L904.4,307.1 L901.4,307.3 L898.4,307.4 L895.4,307.6 L892.4,307.7 L889.4,307.9 L886.4,308.0 L883.4,308.2 L880.4,308.3 L877.4,308.5 L874.4,308.7 L871.4,308.8 L868.4,309.0 L865.4,309.2 L862.4,309.3 L859.4,309.5 L856.4,309.7 L853.4,309.9 L850.4,310.0 L847.5,310.2 L844.5,310.4 L841.5,310.6 L838.5,310.8 L835.5,311.0 L832.5,311.2 L829.5,311.4 L826.5,311.5 L823.5,311.7 L820.5,311.9 L817.5,312.1 L814.5,312.3 L811.5,312.6 L808.5,312.8 L805.5,313.0 L802.5,313.2 L799.5,313.4 L796.5,313.6 L793.5,313.8 L790.5,314.1 L787.6,314.3 L784.6,314.5 L781.6,314.7 L778.6,315.0 L775.6,315.2 L772.6,315.5 L769.6,315.7 L766.6,315.9 L763.6,316.2 L760.6,316.4 L757.6,316.7 L754.6,316.9 L751.6,317.2 L748.7,317.5 L745.7,317.7 L742.7,318.0 L739.7,318.3 L736.7,318.6 L733.7,318.8 L730.7,319.1 L727.7,319.4 L724.7,319.7 L721.7,320.0 L718.7,320.3 L715.8,320.6 L712.8,320.9 L709.8,321.2 L706.8,321.6 L703.8,321.9 L700.8,322.2 L697.8,322.5 L694.8,322.9 L691.9,323.2 L688.9,323.6 L685.9,323.9 L682.9,324.3 L679.9,324.6 L676.9,325.0 L674.0,325.4 L671.0,325.8 L668.0,326.1 L665.0,326.5 L662.0,326.9 L659.0,327.3 L656.1,327.7 L653.1,328.2 L650.1,328.6 L647.1,329.0 L644.2,329.4 L641.2,329.9 L638.2,330.3 L635.2,330.8 L632.3,331.3 L629.3,331.7 L626.3,332.2 L623.3,332.7 L620.4,333.2 L617.4,333.7 L614.4,334.2 L611.5,334.7 L608.5,335.3 L605.5,335.8 L602.6,336.4 L599.6,336.9 L596.7,337.5 L593.7,338.1 L590.8,338.7 L587.8,339.3 L584.8,339.9 L581.9,340.5 L579.0,341.2 L576.0,341.8 L573.1,342.5 L570.1,343.2 L567.2,343.9 L564.3,344.6 L561.3,345.3 L558.4,346.0 L555.5,346.8 L552.5,347.5 L549.6,348.3 L546.7,349.1 L543.8,349.9 L540.9,350.8 L538.0,351.6 L535.1,352.5 L532.2,353.4 L529.3,354.3 L526.4,355.2 L523.6,356.1 L520.7,357.1 L517.8,358.1 L515.0,359.1 L512.1,360.1 L509.3,361.2 L506.4,362.3 L503.6,363.4 L500.8,364.5 L498.0,365.6 L495.2,366.8 L492.4,368.0 L489.6,369.2 L486.9,370.5 L484.1,371.8 L481.4,373.1 L478.6,374.5 L475.9,375.8 L473.2,377.2 L470.5,378.7 L467.9,380.2 L465.2,381.7 L462.6,383.2 L460.0,384.8 L457.4,386.4 L454.8,388.0 L452.3,389.7 L449.8,391.4 L447.3,393.2 L444.8,394.9 L442.3,396.8 L439.9,398.6 L437.5,400.5 L435.1,402.4 L432.8,404.4 L430.5,406.4 L428.2,408.4 L426.0,410.5 L423.8,412.6 L421.6,414.7 L419.4,416.9 L417.3,419.0 L415.1,421.2 L413.0,423.4 L411.0,425.6 L408.9,427.9 L406.9,430.2 L404.9,432.5 L403.0,434.9 L401.1,437.3 L399.2,439.7 L397.4,442.1 L395.6,444.6 L393.9,447.1 L392.2,449.6 L390.5,452.2 L388.8,454.7 L387.2,457.3 L385.6,459.9 L384.1,462.5 L382.6,465.2 L381.1,467.8 L379.6,470.5 L378.2,473.2 L376.8,475.9 L375.5,478.6 L374.2,481.4 L372.9,484.1 L371.6,486.9 L370.4,489.7 L369.1,492.5 L368.0,495.2 L366.8,498.1 L365.7,500.9 L364.6,503.7 L363.5,506.5 L362.4,509.4 L361.4,512.2 L360.4,515.1 L359.4,517.9 L358.4,520.8 L357.5,523.7 L356.5,526.6 L355.6,529.4 L354.7,532.3 L353.9,535.2 L353.0,538.1 L352.2,541.0 L351.4,544.0 L350.6,546.9 L349.8,549.8 L349.0,552.7 L348.2,555.6 L347.5,558.6 L346.8,561.5 L346.1,564.4 L345.4,567.4 L344.7,570.3 L344.0,573.2 L343.4,576.2 L342.7,579.1 L342.1,582.1 L341.5,585.0 L340.9,588.0 L340.3,590.9 L339.7,593.9 L339.1,596.9 L338.5,599.8 L338.0,602.8 L337.4,605.7 L336.9,608.7 L336.4,611.7 L335.9,614.6 L335.4,617.6 L334.9,620.6 L334.4,623.5 L333.9,626.5 L333.4,629.5 L332.9,632.5 L332.5,635.4 L332.0,638.4 L331.6,641.4 L331.1,644.4 L330.7,647.3 L330.3,650.3 L329.9,653.3 L329.5,656.3 L329.1,659.2 L328.7,662.2 L328.3,665.2 L327.9,668.2 L327.5,671.2 L327.1,674.2 L326.8,677.1 L326.4,680.1 L326.0,683.1 L325.7,686.1 L325.3,689.1 L325.0,692.1 L324.7,695.1 L324.3,698.0 L324.0,701.0 L323.7,704.0 L323.4,707.0 L323.0,710.0 L322.7,713.0 L322.4,716.0 L322.1,719.0 L321.8,721.9 L321.5,724.9 L321.2,727.9 L321.0,730.9 L320.7,733.9 L320.4,736.9 L320.1,739.9 L319.8,742.9 L319.6,745.9 L319.3,748.9 L319.0,751.9 L318.8,754.8 L318.5,757.8 L318.3,760.8 L318.0,763.8 L317.8,766.8 L317.5,769.8 L317.3,772.8 L317.1,775.8 L316.8,778.8 L316.6,781.8 L316.4,784.8 L316.1,787.8 L315.9,790.8 L315.7,793.8 L315.5,796.7 L315.3,799.7 L315.1,802.7 L314.8,805.7 L314.6,808.7 L314.4,811.7 L314.2,814.7 L314.0,817.7 L313.8,820.7 L313.6,823.7 L313.4,826.7 L313.2,829.7 L313.1,832.7 L312.9,835.7 L312.7,838.7 L312.5,841.7 L312.3,844.7 L312.1,847.7 L311.9,850.7 L311.8,853.7 L311.6,856.7 L311.4,859.6 L311.3,862.6 L311.1,865.6 L310.9,868.6 L310.7,871.6 L310.6,874.6 L310.4,877.6 L310.3,880.6 L310.1,883.6 L309.9,886.6 L309.8,889.6 L309.6,892.6 L309.5,895.6 L309.3,898.6 L309.2,901.6 L309.0,904.6 L308.9,907.6 L308.7,910.6 L308.6,913.6 L308.4,916.6 L308.3,919.6 L308.2,922.6 L308.0,925.6 L307.9,928.6 L307.7,931.6 L307.6,934.6 L307.5,937.6 L307.3,940.6 L307.2,943.6 L307.1,946.5 L306.9,949.5 L306.8,952.5 L306.7,955.5 L306.6,958.5 L306.4,961.5 L306.3,964.5 L306.2,967.5 L306.1,970.5 L305.9,973.5 L305.8,976.5 L305.7,979.5 L305.6,982.5 L305.5,985.5 L305.4,988.5 L305.2,991.5 L305.1,994.5 L305.0,997.5 L304.9,1000.5 L304.8,1003.5 L304.7,1006.5 L304.6,1009.5 L304.5,1012.5 L304.4,1015.5 L304.2,1018.5 L304.1,1021.5 L304.0,1024.5 L303.9,1027.5 L303.8,1030.5 L303.7,1033.5 L303.6,1036.5 L303.5,1039.5 L303.4,1042.5 L303.3,1045.5 L303.2,1048.5 L303.1,1051.5 L303.0,1054.5 L302.9,1057.5 L302.8,1060.5 L302.7,1063.5 L302.7,1066.5 L302.6,1069.4 L302.5,1072.4 L302.4,1075.4 L302.3,1078.4 L302.2,1081.4 L302.1,1084.4 L302.0,1087.4 L301.9,1090.4 L301.8,1093.4 L301.7,1096.4 L301.7,1099.4 L301.6,1102.4 L301.5,1105.4 L301.4,1108.4 L301.3,1111.4 L301.2,1114.4 L301.2,1117.4 L301.1,1120.4 L301.0,1123.4 L300.9,1126.4 L300.8,1129.4 L300.7,1132.4 L300.7,1135.4 L300.6,1138.4 L300.5,1141.4 L300.4,1144.4 L300.4,1147.4 L300.3,1150.4 L300.2,1153.4 L300.1,1156.4 L300.1,1159.4 A4.45,4.45 0 0 0 308.9,1159.6Z"/>
<path d="M308.4,1159.5 L308.4,1155.6 L308.4,1151.7 L308.4,1147.7 L308.4,1143.8 L308.4,1139.9 L308.4,1136.0 L308.4,1132.1 A3.90,3.90 0 0 0 300.6,1132.1 L300.6,1136.0 L300.6,1139.9 L300.6,1143.8 L300.6,1147.7 L300.6,1151.7 L300.6,1155.6 L300.6,1159.5 A3.90,3.90 0 0 0 308.4,1159.5Z M308.4,1088.2 L308.4,1084.5 L308.4,1080.7 L308.4,1076.9 L308.4,1073.1 L308.4,1069.4 L308.4,1065.6 L308.5,1061.8 L308.5,1058.0 L308.5,1054.3 A3.90,3.90 0 0 0 300.7,1054.2 L300.7,1058.0 L300.7,1061.8 L300.6,1065.6 L300.6,1069.4 L300.6,1073.1 L300.6,1076.9 L300.6,1080.7 L300.6,1084.5 L300.6,1088.2 A3.90,3.90 0 0 0 308.4,1088.2Z M308.7,1010.7 L308.7,1006.9 L308.8,1003.1 L308.8,999.4 L308.9,995.6 L308.9,991.8 L309.0,988.1 L309.0,984.3 L309.1,980.5 L309.1,976.7 A3.90,3.90 0 0 0 301.3,976.6 L301.3,980.4 L301.2,984.2 L301.2,987.9 L301.1,991.7 L301.1,995.5 L301.0,999.3 L301.0,1003.1 L300.9,1006.8 L300.9,1010.6 A3.90,3.90 0 0 0 308.7,1010.7Z M310.3,933.5 L310.4,929.7 L310.5,925.9 L310.7,922.2 L310.9,918.4 L311.0,914.6 L311.2,910.9 L311.4,907.1 L311.6,903.4 L311.8,899.6 A3.90,3.90 0 0 0 304.0,899.2 L303.8,902.9 L303.6,906.7 L303.4,910.5 L303.2,914.3 L303.1,918.1 L302.9,921.8 L302.8,925.6 L302.6,929.4 L302.5,933.2 A3.90,3.90 0 0 0 310.3,933.5Z M315.0,856.7 L315.3,853.0 L315.7,849.3 L316.1,845.5 L316.5,841.8 L316.9,838.0 L317.3,834.3 L317.8,830.6 L318.2,826.8 L318.7,823.1 A3.89,3.89 0 0 0 311.0,822.1 L310.5,825.8 L310.1,829.6 L309.6,833.4 L309.2,837.1 L308.7,840.9 L308.3,844.7 L307.9,848.5 L307.6,852.2 L307.2,856.0 A3.89,3.89 0 0 0 315.0,856.7Z M325.6,781.0 L326.3,777.4 L327.1,773.7 L327.8,770.0 L328.6,766.3 L329.5,762.7 L330.3,759.0 L331.2,755.3 L332.1,751.7 L333.0,748.1 A3.86,3.86 0 0 0 325.5,746.1 L324.6,749.8 L323.7,753.5 L322.8,757.2 L321.9,760.9 L321.1,764.6 L320.3,768.4 L319.5,772.1 L318.7,775.8 L318.0,779.6 A3.88,3.88 0 0 0 325.6,781.0Z M345.2,707.7 L346.4,704.3 L347.7,700.9 L348.9,697.6 L350.2,694.3 L351.5,690.9 L352.8,687.6 L354.2,684.3 L355.6,681.0 L357.0,677.7 A3.80,3.80 0 0 0 350.0,674.7 L348.6,678.0 L347.1,681.4 L345.8,684.7 L344.4,688.1 L343.1,691.5 L341.8,694.9 L340.5,698.3 L339.2,701.7 L338.0,705.1 A3.83,3.83 0 0 0 345.2,707.7Z M376.3,638.8 L378.2,635.4 L380.2,632.1 L382.1,628.8 L384.1,625.5 L386.2,622.2 L388.2,618.9 L390.3,615.6 L392.5,612.4 A3.70,3.70 0 0 0 386.3,608.3 L384.1,611.6 L382.0,614.9 L379.9,618.2 L377.8,621.6 L375.7,624.9 L373.7,628.3 L371.7,631.7 L369.8,635.1 A3.75,3.75 0 0 0 376.3,638.8Z M418.8,576.7 L421.2,573.7 L423.6,570.9 L426.1,568.0 L428.6,565.1 L431.0,562.3 L433.6,559.5 L436.1,556.7 L438.6,553.9 A3.59,3.59 0 0 0 433.4,549.0 L430.8,551.8 L428.2,554.7 L425.7,557.5 L423.1,560.4 L420.6,563.3 L418.1,566.2 L415.6,569.1 L413.2,572.0 A3.63,3.63 0 0 0 418.8,576.7Z M470.8,522.2 L473.5,519.8 L476.3,517.3 L479.1,514.9 L481.8,512.5 L484.6,510.1 L487.5,507.7 L490.3,505.3 L493.1,503.0 A3.63,3.63 0 0 0 488.5,497.4 L485.6,499.8 L482.8,502.1 L479.9,504.6 L477.1,507.0 L474.3,509.4 L471.5,511.9 L468.7,514.4 L466.0,516.9 A3.60,3.60 0 0 0 470.8,522.2Z M529.5,475.1 L532.5,473.0 L535.4,470.9 L538.4,468.9 L541.4,466.8 L544.4,464.8 L547.4,462.7 L550.4,460.7 L553.4,458.7 A3.71,3.71 0 0 0 549.3,452.5 L546.2,454.6 L543.2,456.6 L540.2,458.7 L537.2,460.7 L534.2,462.8 L531.2,464.9 L528.2,467.0 L525.3,469.1 A3.68,3.68 0 0 0 529.5,475.1Z M592.6,434.2 L595.7,432.4 L598.8,430.6 L601.9,428.8 L605.0,427.0 L608.1,425.2 L611.2,423.4 L614.4,421.7 L617.5,419.9 A3.75,3.75 0 0 0 613.9,413.4 L610.7,415.1 L607.6,416.9 L604.4,418.7 L601.3,420.5 L598.1,422.3 L595.0,424.1 L591.9,425.9 L588.8,427.8 A3.74,3.74 0 0 0 592.6,434.2Z M658.4,398.3 L661.6,396.7 L664.9,395.1 L668.1,393.5 L671.3,391.9 L674.6,390.3 L677.8,388.7 L681.1,387.2 L684.3,385.6 A3.79,3.79 0 0 0 681.1,378.8 L677.8,380.4 L674.5,381.9 L671.3,383.5 L668.0,385.1 L664.8,386.7 L661.5,388.3 L658.3,390.0 L655.0,391.6 A3.77,3.77 0 0 0 658.4,398.3Z M726.1,366.5 L729.4,365.0 L732.8,363.5 L736.2,362.1 L739.5,360.6 L742.9,359.2 L746.3,357.7 L749.7,356.3 L753.0,354.9 A3.81,3.81 0 0 0 750.1,347.9 L746.7,349.3 L743.3,350.7 L739.9,352.2 L736.5,353.6 L733.1,355.1 L729.8,356.6 L726.4,358.0 L723.0,359.5 A3.80,3.80 0 0 0 726.1,366.5Z M795.0,337.9 L798.5,336.5 L802.0,335.1 L805.5,333.8 L809.0,332.4 L812.5,331.1 L816.0,329.7 L819.6,328.4 L823.1,327.1 A3.83,3.83 0 0 0 820.4,319.9 L816.9,321.3 L813.3,322.6 L809.8,323.9 L806.3,325.3 L802.7,326.7 L799.2,328.0 L795.7,329.4 L792.2,330.8 A3.82,3.82 0 0 0 795.0,337.9Z M864.7,311.9 L868.3,310.6 L872.0,309.3 L875.7,308.1 L879.4,306.8 L883.1,305.5 L886.8,304.2 L890.5,303.0 L894.2,301.7 A3.84,3.84 0 0 0 891.7,294.4 L888.0,295.7 L884.3,297.0 L880.6,298.2 L876.9,299.5 L873.2,300.8 L869.5,302.1 L865.8,303.4 L862.1,304.7 A3.83,3.83 0 0 0 864.7,311.9Z M934.9,288.2 L938.4,287.1 L941.8,286.0 L945.3,284.9 L948.7,283.8 L952.2,282.7 L955.7,281.6 L959.1,280.5 L962.6,279.4 L966.1,278.3 A3.85,3.85 0 0 0 963.8,271.0 L960.3,272.0 L956.8,273.1 L953.4,274.2 L949.9,275.3 L946.4,276.4 L942.9,277.5 L939.5,278.6 L936.0,279.8 L932.5,280.9 A3.84,3.84 0 0 0 934.9,288.2Z M1005.5,266.3 L1009.2,265.2 L1012.9,264.1 L1016.5,263.0 L1020.2,262.0 L1023.9,260.9 L1027.6,259.8 L1031.2,258.7 L1034.9,257.7 L1038.6,256.6 A3.85,3.85 0 0 0 1036.5,249.2 L1032.8,250.3 L1029.1,251.3 L1025.4,252.4 L1021.7,253.5 L1018.0,254.6 L1014.3,255.6 L1010.7,256.7 L1007.0,257.8 L1003.3,258.9 A3.85,3.85 0 0 0 1005.5,266.3Z M1076.4,246.0 L1080.0,245.0 L1083.7,244.0 L1087.3,242.9 L1091.0,241.9 L1094.7,241.0 L1098.3,240.0 L1102.0,239.0 L1105.7,238.0 L1109.3,237.0 L1113.0,236.0 L1116.7,235.0 L1120.3,234.1 A3.86,3.86 0 0 0 1118.3,226.6 L1114.7,227.6 L1111.0,228.6 L1107.3,229.5 L1103.7,230.5 L1100.0,231.5 L1096.3,232.5 L1092.6,233.5 L1089.0,234.5 L1085.3,235.5 L1081.6,236.5 L1078.0,237.5 L1074.3,238.5 A3.86,3.86 0 0 0 1076.4,246.0Z M1163.3,222.9 L1166.8,222.0 L1170.4,221.1 L1173.9,220.2 L1177.5,219.3 L1181.0,218.4 L1184.6,217.5 L1188.1,216.6 L1191.7,215.8 L1195.2,214.9 A3.87,3.87 0 0 0 1193.4,207.4 L1189.8,208.3 L1186.3,209.1 L1182.7,210.0 L1179.2,210.9 L1175.6,211.8 L1172.0,212.7 L1168.5,213.6 L1164.9,214.5 L1161.4,215.4 A3.86,3.86 0 0 0 1163.3,222.9Z M1238.5,204.4 L1242.0,203.5 L1245.6,202.7 L1249.1,201.8 L1252.7,201.0 L1256.3,200.1 L1259.8,199.3 L1263.4,198.5 L1266.9,197.6 L1270.5,196.8 A3.87,3.87 0 0 0 1268.8,189.3 L1265.2,190.1 L1261.6,190.9 L1258.1,191.8 L1254.5,192.6 L1250.9,193.5 L1247.3,194.3 L1243.8,195.1 L1240.2,196.0 L1236.7,196.8 A3.87,3.87 0 0 0 1238.5,204.4Z M1313.9,186.9 L1317.4,186.1 L1321.0,185.3 L1324.6,184.5 L1328.2,183.7 L1331.7,182.9 L1335.3,182.1 L1338.9,181.3 L1342.4,180.5 L1346.0,179.7 A3.87,3.87 0 0 0 1344.4,172.2 L1340.8,173.0 L1337.2,173.7 L1333.6,174.5 L1330.1,175.3 L1326.5,176.1 L1322.9,176.9 L1319.3,177.7 L1315.7,178.5 L1312.2,179.3 A3.87,3.87 0 0 0 1313.9,186.9Z M1389.5,170.3 L1393.1,169.6 L1396.7,168.8 L1400.2,168.1 L1403.8,167.3 L1407.4,166.5 L1411.0,165.8 L1414.6,165.0 L1418.2,164.3 L1421.7,163.5 A3.88,3.88 0 0 0 1420.2,156.0 L1416.6,156.7 L1413.0,157.5 L1409.4,158.2 L1405.8,159.0 L1402.2,159.7 L1398.6,160.5 L1395.1,161.2 L1391.5,162.0 L1387.9,162.8 A3.87,3.87 0 0 0 1389.5,170.3Z"/>
</g>
<rect x="1153" y="376" width="24" height="24" fill="#000" shape-rendering="crispEdges"/>
<circle cx="1165.5" cy="466.3" r="13.4" fill="#f00"/>
<g fill="none" stroke="#000" stroke-width="9" stroke-linecap="round">
<path d="M1094.7,545.5 H1127.2 M1171.5,545.5 H1203.7"/>
<path d="M1094.7,624.5 H1236.3"/>
</g>
<g font-size="63">
<text x="1252.7" y="409.9">RSSB450</text>
<text x="1236.7" y="487.6">nZVI-RSSB450</text>
<text x="1252.7" y="565.7">Freundlich</text>
<text x="1252.7" y="644.6">Langmuir</text>
</g>
</svg></body></html>
